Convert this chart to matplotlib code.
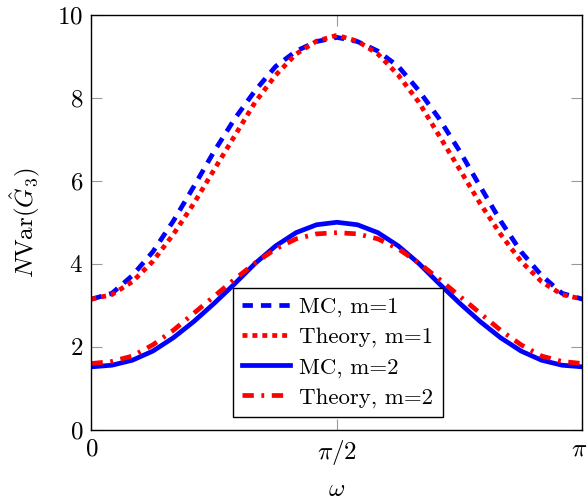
import numpy as np
from matplotlib import pyplot as plt
import matplotlib.transforms as mtransforms

plt.rcParams['font.family'] = 'cmr10'
plt.rcParams['mathtext.fontset'] = 'cm'
plt.rcParams['axes.formatter.use_mathtext'] = True
plt.rcParams['font.size'] = 16

# values, on a grid of pi/24
omega = np.linspace(0, np.pi, 25)
mc_m1 = [3.15, 3.29, 3.72, 4.29, 5.03, 5.86, 6.71, 7.49, 8.17, 8.75, 9.12, 9.35, 9.45,
         9.35, 9.12, 8.75, 8.17, 7.49, 6.71, 5.86, 5.03, 4.29, 3.72, 3.29, 3.15]
theory_m1 = [3.15, 3.26, 3.57, 4.06, 4.71, 5.45, 6.27, 7.08, 7.89, 8.54, 9.05, 9.36, 9.50,
             9.36, 9.05, 8.54, 7.89, 7.08, 6.27, 5.45, 4.71, 4.06, 3.57, 3.26, 3.15]
mc_m2 = [1.52, 1.56, 1.68, 1.90, 2.22, 2.61, 3.05, 3.52, 4.01, 4.43, 4.75, 4.94, 5.00,
         4.94, 4.75, 4.43, 4.01, 3.52, 3.05, 2.61, 2.22, 1.90, 1.68, 1.56, 1.52]
theory_m2 = [1.60, 1.65, 1.78, 2.05, 2.40, 2.81, 3.22, 3.63, 4.02, 4.36, 4.60, 4.72, 4.75,
             4.72, 4.60, 4.36, 4.02, 3.63, 3.22, 2.81, 2.40, 2.05, 1.78, 1.65, 1.60]

labels = ['MC, m=1', 'Theory, m=1', 'MC, m=2', 'Theory, m=2']
xticks = [0, np.pi / 2, np.pi]
xticklabels = ['$0$', r'$\pi/2$', r'$\pi$']
yticks = [0, 2, 4, 6, 8, 10]

fig = plt.figure(figsize=(5.88, 5.01), dpi=100)
ax = fig.add_axes([0.1556, 0.1417, 0.8350, 0.8293])

lw = 3.4
ax.plot(omega, mc_m1, color='blue', lw=lw, dashes=(2.2, 1.7), label=labels[0])
ax.plot(omega, theory_m1, color='red', lw=lw, dashes=(1.05, 1.05), label=labels[1])
ax.plot(omega, mc_m2, color='blue', lw=lw, label=labels[2])
ax.plot(omega, theory_m2, color='red', lw=lw, dashes=(2.4, 1.6, 0.6, 1.6), label=labels[3])

ax.set_xlim(0, np.pi)
ax.set_ylim(0, 10)
ax.set_xticks(xticks)
ax.set_xticklabels(xticklabels)
ax.set_yticks(yticks)
ax.set_yticklabels([f'${v}$' for v in yticks])
ax.tick_params(direction='in', length=8, width=0.8, color='#999999',
               top=True, right=True, pad=6, labelsize=18)

# nudge the pi label so it stays inside the figure
shift = mtransforms.ScaledTranslation(-3 / 100, 0, fig.dpi_scale_trans)
lab = ax.get_xticklabels()[-1]
lab.set_transform(lab.get_transform() + shift)

for s in ax.spines.values():
    s.set_linewidth(1.0)

ax.set_xlabel(r'$\omega$', labelpad=8, fontsize=18)
ax.set_ylabel(r'$N\mathrm{Var}(\hat{G}_3)$', labelpad=10, fontsize=18)

leg = ax.legend(loc='lower left', bbox_to_anchor=(0.288, 0.032), borderaxespad=0,
                fancybox=False, framealpha=1, edgecolor='black', fontsize=16.5,
                handlelength=2.1, handletextpad=0.4, labelspacing=0.42,
                borderpad=0.4)
leg.get_frame().set_linewidth(1.0)

plt.savefig('out.png', dpi=100)
plt.close(fig)
